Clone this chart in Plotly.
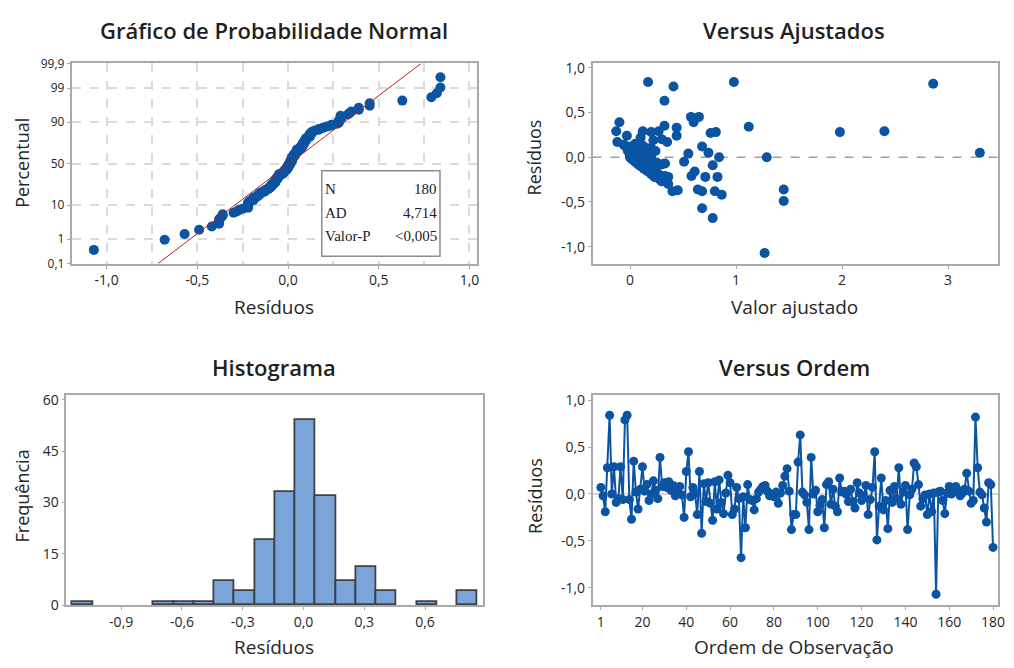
import plotly.graph_objects as go
from statistics import NormalDist
import numpy as np

# ---------------- data ----------------
residuos = [
    0.07, -0.02, -0.19, 0.28, 0.84, 0.00, 0.29, -0.09, -0.05, 0.29,
    -0.06, 0.79, 0.84, -0.06, -0.27, 0.35, 0.02, -0.16, 0.05, 0.29,
    0.03, 0.10, -0.07, 0.00, 0.14, 0.04, -0.05, 0.39, 0.08, 0.12,
    0.07, 0.13, 0.04, 0.09, -0.02, 0.05, 0.08, -0.01, -0.25, 0.24,
    0.45, -0.03, 0.07, 0.01, -0.22, 0.24, -0.42, 0.11, -0.08, 0.12,
    -0.10, -0.28, 0.13, -0.16, 0.15, -0.09, -0.21, 0.01, 0.20, 0.12,
    -0.22, -0.16, 0.07, -0.05, -0.68, -0.03, -0.36, 0.10, -0.06, -0.07,
    -0.17, -0.05, 0.02, 0.05, 0.08, 0.09, 0.03, -0.02, 0.00, -0.03,
    0.02, -0.10, 0.01, 0.09, 0.19, 0.27, 0.03, -0.38, -0.22, -0.22,
    0.34, 0.63, 0.02, -0.01, -0.09, -0.38, 0.39, 0.00, 0.04, -0.19,
    -0.12, -0.06, -0.36, 0.10, 0.13, -0.11, 0.05, -0.13, -0.19, 0.17,
    0.02, 0.03, 0.00, -0.08, 0.05, -0.08, -0.15, 0.12, 0.01, -0.07,
    -0.03, 0.09, -0.22, -0.06, 0.07, 0.45, -0.49, -0.13, 0.17, -0.17,
    -0.07, -0.37, 0.04, -0.09, 0.08, -0.05, 0.28, -0.11, 0.02, 0.09,
    -0.38, -0.01, 0.05, 0.33, 0.29, 0.10, -0.13, -0.05, -0.01, -0.22,
    0.00, -0.19, 0.01, -1.07, 0.02, 0.03, -0.07, -0.21, 0.01, 0.08,
    0.00, 0.02, 0.08, 0.04, -0.02, 0.01, 0.05, 0.22, 0.03, -0.10,
    -0.07, 0.82, 0.28, 0.02, -0.01, -0.15, -0.30, 0.12, 0.10, -0.57,
]

ajustados = [
    -0.02, 0.02, 0.20, 1.98, 0.17, 0.84, 2.40, 0.10, 0.06, -0.13,
    0.07, 0.41, 0.98, 0.12, 0.30, 0.325, 0.00, 0.17, 0.74, 0.12,
    0.03, 0.03, 0.08, 0.01, -0.06, 0.10, 0.15, -0.10, 0.05, 0.01,
    0.10, 0.06, 0.55, 0.02, 0.04, 0.08, 0.14, 0.02, 0.28, 0.44,
    0.575, 0.04, 0.04, 0.05, 0.71, -0.03, 0.865, 0.00, 0.09, -0.03,
    0.11, 0.35, 0.08, 0.61, 0.05, 0.78, 0.58, 0.12, 0.30, 0.68,
    0.825, 0.18, 0.07, 0.51, 0.78, 0.03, 1.45, 0.20, 0.20, 0.07,
    0.19, 0.05, 0.06, 0.02, 0.02, -0.01, 0.15, 0.03, 0.00, 0.05,
    0.09, 0.14, 0.01, 0.11, 0.22, 0.76, 0.04, 0.68, 0.24, 0.30,
    1.12, 0.325, 0.20, 0.01, 0.10, 0.80, 0.60, 1.29, 0.03, 0.22,
    0.13, 0.25, 0.64, 0.16, 0.12, 0.12, 0.12, 0.14, 0.27, -0.12,
    0.07, 0.02, 0.03, 0.08, 0.04, 0.30, 0.16, -0.04, 0.11, 0.09,
    0.03, 0.03, 0.23, 0.06, 0.24, 0.65, 1.45, 0.13, 0.35, 0.25,
    0.18, 0.45, 0.06, 0.09, 0.04, 0.05, 0.81, 0.22, 0.14, 0.00,
    0.40, 0.02, 3.30, 0.44, 0.27, 0.06, 0.16, 0.10, 0.01, 0.36,
    0.02, 0.21, 0.08, 1.27, 0.04, 0.01, 0.11, 0.33, 0.06, 0.01,
    0.18, 0.05, 0.03, 0.02, 0.02, 0.04, 0.09, 0.10, 0.13, 0.10,
    0.33, 2.86, 0.20, 0.00, 0.01, 0.20, 0.36, 0.09, 0.02, 0.68,
]

ordem = list(range(1, len(residuos) + 1))

prob_ticks = [0.1, 1, 10, 50, 90, 99, 99.9]
prob_ticktext = ["0,1", "1", "10", "50", "90", "99", "99,9"]
res_ticks = [-1.0, -0.5, 0.0, 0.5, 1.0]
res_ticktext = ["-1,0", "-0,5", "0,0", "0,5", "1,0"]
fit_ticks = [0, 1, 2, 3]
fit_ticktext = ["0", "1", "2", "3"]
hist_xticks = [-0.9, -0.6, -0.3, 0.0, 0.3, 0.6]
hist_xticktext = ["-0,9", "-0,6", "-0,3", "0,0", "0,3", "0,6"]
hist_yticks = [0, 15, 30, 45, 60]
ord_ticks = [1, 20, 40, 60, 80, 100, 120, 140, 160, 180]

stat_labels = ["N", "AD", "Valor-P"]
stat_values = ["180", "4,714", "<0,005"]

# ---------------- styles ----------------
BLUE = "#0B53A3"
FRAME = "#A9A9A9"
GRID = "#DADADA"
TXT = "#262626"
FONT = "Open Sans"
WIN_W, WIN_H = 1014, 668
OFF = 8                      # page body margin
W, H = WIN_W - OFF, WIN_H - OFF


def px_x(p):
    return (p - OFF) / W


def px_y(p):
    return 1 - (p - OFF) / H


nd = NormalDist()
n = len(residuos)
res_sorted = sorted(residuos)
z_pts = [nd.inv_cdf((i - 0.3) / (n + 0.4)) for i in range(1, n + 1)]
mu = float(np.mean(residuos))
sd = float(np.std(residuos, ddof=1))
z_lo, z_hi = nd.inv_cdf(0.001), nd.inv_cdf(0.999)
z_line = [z_lo, z_hi]
x_line = [mu + sd * zz for zz in z_line]
prob_tickvals = [nd.inv_cdf(p / 100) for p in prob_ticks]

fig = go.Figure()

# 1 normal probability plot
fig.add_trace(go.Scatter(x=res_sorted, y=z_pts, mode="markers",
                         marker=dict(color=BLUE, size=10), xaxis="x", yaxis="y"))
fig.add_trace(go.Scatter(x=x_line, y=z_line, mode="lines",
                         line=dict(color="#B22222", width=1), xaxis="x", yaxis="y"))
# 2 versus fits
fig.add_trace(go.Scatter(x=ajustados, y=residuos, mode="markers",
                         marker=dict(color=BLUE, size=10), xaxis="x2", yaxis="y2"))
# 3 histogram
fig.add_trace(go.Histogram(x=residuos, xbins=dict(start=-1.14, end=0.86, size=0.1),
                           marker=dict(color="#7BA5D8", line=dict(color="#404040", width=1.8)),
                           xaxis="x3", yaxis="y3"))
# 4 versus order
fig.add_trace(go.Scatter(x=ordem, y=residuos, mode="lines+markers",
                         line=dict(color=BLUE, width=2),
                         marker=dict(color=BLUE, size=9), xaxis="x4", yaxis="y4"))

base = dict(showline=True, mirror=True, linecolor=FRAME, linewidth=1.5,
            ticks="outside", ticklen=3, tickcolor=FRAME, tickwidth=1,
            tickfont=dict(family=FONT, size=14, color=TXT),
            showgrid=False, zeroline=False, tickmode="array")

dom_top = [px_y(261.7), px_y(55.7)]
dom_bot = [px_y(612.5), px_y(396.7)]
dom_left_top = [px_x(72), px_x(480)]
dom_right = [px_x(596.7), px_x(1005)]
dom_left_bot = [px_x(66.7), px_x(486.7)]

fig.update_layout(
    width=W, height=H, margin=dict(l=0, r=0, t=0, b=0),
    paper_bgcolor="white", plot_bgcolor="white", showlegend=False,
    bargap=0,
    xaxis=dict(base, domain=dom_left_top, anchor="y", range=[-1.193, 1.04],
               tickvals=res_ticks, ticktext=res_ticktext,
               showgrid=True, gridcolor=GRID, griddash="dash", gridwidth=1.5,
               minor=dict(tickvals=[-0.75, -0.25, 0.25, 0.75], showgrid=True,
                          gridcolor=GRID, griddash="dash", gridwidth=1.5, ticks="")),
    yaxis=dict(base, domain=dom_top, anchor="x", range=[z_lo, z_hi],
               tickvals=prob_tickvals, ticktext=prob_ticktext,
               tickfont=dict(family=FONT, size=12, color=TXT),
               showgrid=True, gridcolor=GRID, griddash="dash", gridwidth=1.5),
    xaxis2=dict(base, domain=dom_right, anchor="y2", range=[-0.353, 3.472],
                tickvals=fit_ticks, ticktext=fit_ticktext),
    yaxis2=dict(base, domain=dom_top, anchor="x2", range=[-1.19, 1.047],
                tickvals=res_ticks, ticktext=res_ticktext),
    xaxis3=dict(base, domain=dom_left_bot, anchor="y3", range=[-1.171, 0.888],
                tickvals=hist_xticks, ticktext=hist_xticktext),
    yaxis3=dict(base, domain=dom_bot, anchor="x3", range=[0, 61.4],
                tickvals=hist_yticks),
    xaxis4=dict(base, domain=dom_right, anchor="y4", range=[-2.76, 182.3],
                tickvals=ord_ticks),
    yaxis4=dict(base, domain=dom_bot, anchor="x4", range=[-1.185, 1.055],
                tickvals=res_ticks, ticktext=res_ticktext),
)

# reference lines at zero
fig.add_shape(type="line", xref="x2 domain", yref="y2", x0=0, x1=1, y0=0, y1=0,
              line=dict(color="#A0A0A0", width=1.5, dash="dash"), layer="below")
fig.add_shape(type="line", xref="x4 domain", yref="y4", x0=0, x1=1, y0=0, y1=0,
              line=dict(color="#B0B0B0", width=1), layer="below")

# statistics box
fig.add_shape(type="rect", xref="paper", yref="paper",
              x0=px_x(324), x1=px_x(443), y0=px_y(254), y1=px_y(166),
              line=dict(color="#8C8C8C", width=1.5), fillcolor="white", layer="above")
row_y = [185, 209, 233]
for lab, val, yy in zip(stat_labels, stat_values, row_y):
    fig.add_annotation(x=px_x(325), y=px_y(yy), xref="paper", yref="paper",
                       text=lab, showarrow=False, xanchor="left", yanchor="middle",
                       font=dict(family="Liberation Serif", size=15, color="#1a1a2a"))
    fig.add_annotation(x=px_x(442), y=px_y(yy), xref="paper", yref="paper",
                       text=val, showarrow=False, xanchor="right", yanchor="middle",
                       font=dict(family="Liberation Serif", size=15, color="#1a1a2a"))

# titles
titles = [("Gráfico de Probabilidade Normal", 276, 21),
          ("Versus Ajustados", 800, 21),
          ("Histograma", 276, 368),
          ("Versus Ordem", 800, 368)]
for t, xx, yy in titles:
    fig.add_annotation(x=px_x(xx), y=px_y(yy), xref="paper", yref="paper", text=t,
                       showarrow=False, xanchor="center", yanchor="middle",
                       font=dict(family=FONT, size=22, color="#1f1f1f", weight=600))

xtitles = [("Resíduos", 276, 306), ("Valor ajustado", 800, 306),
           ("Resíduos", 276, 656), ("Ordem de Observação", 800, 656)]
for t, xx, yy in xtitles:
    fig.add_annotation(x=px_x(xx), y=px_y(yy), xref="paper", yref="paper", text=t,
                       showarrow=False, xanchor="center", yanchor="middle",
                       font=dict(family=FONT, size=19, color=TXT))

ytitles = [("Percentual", 22, 158), ("Resíduos", 538, 152),
           ("Frequência", 22, 500), ("Resíduos", 538, 500)]
for t, xx, yy in ytitles:
    fig.add_annotation(x=px_x(xx), y=px_y(yy), xref="paper", yref="paper", text=t,
                       showarrow=False, xanchor="center", yanchor="middle", textangle=-90,
                       font=dict(family=FONT, size=18, color=TXT))

fig.write_html("out.html")
